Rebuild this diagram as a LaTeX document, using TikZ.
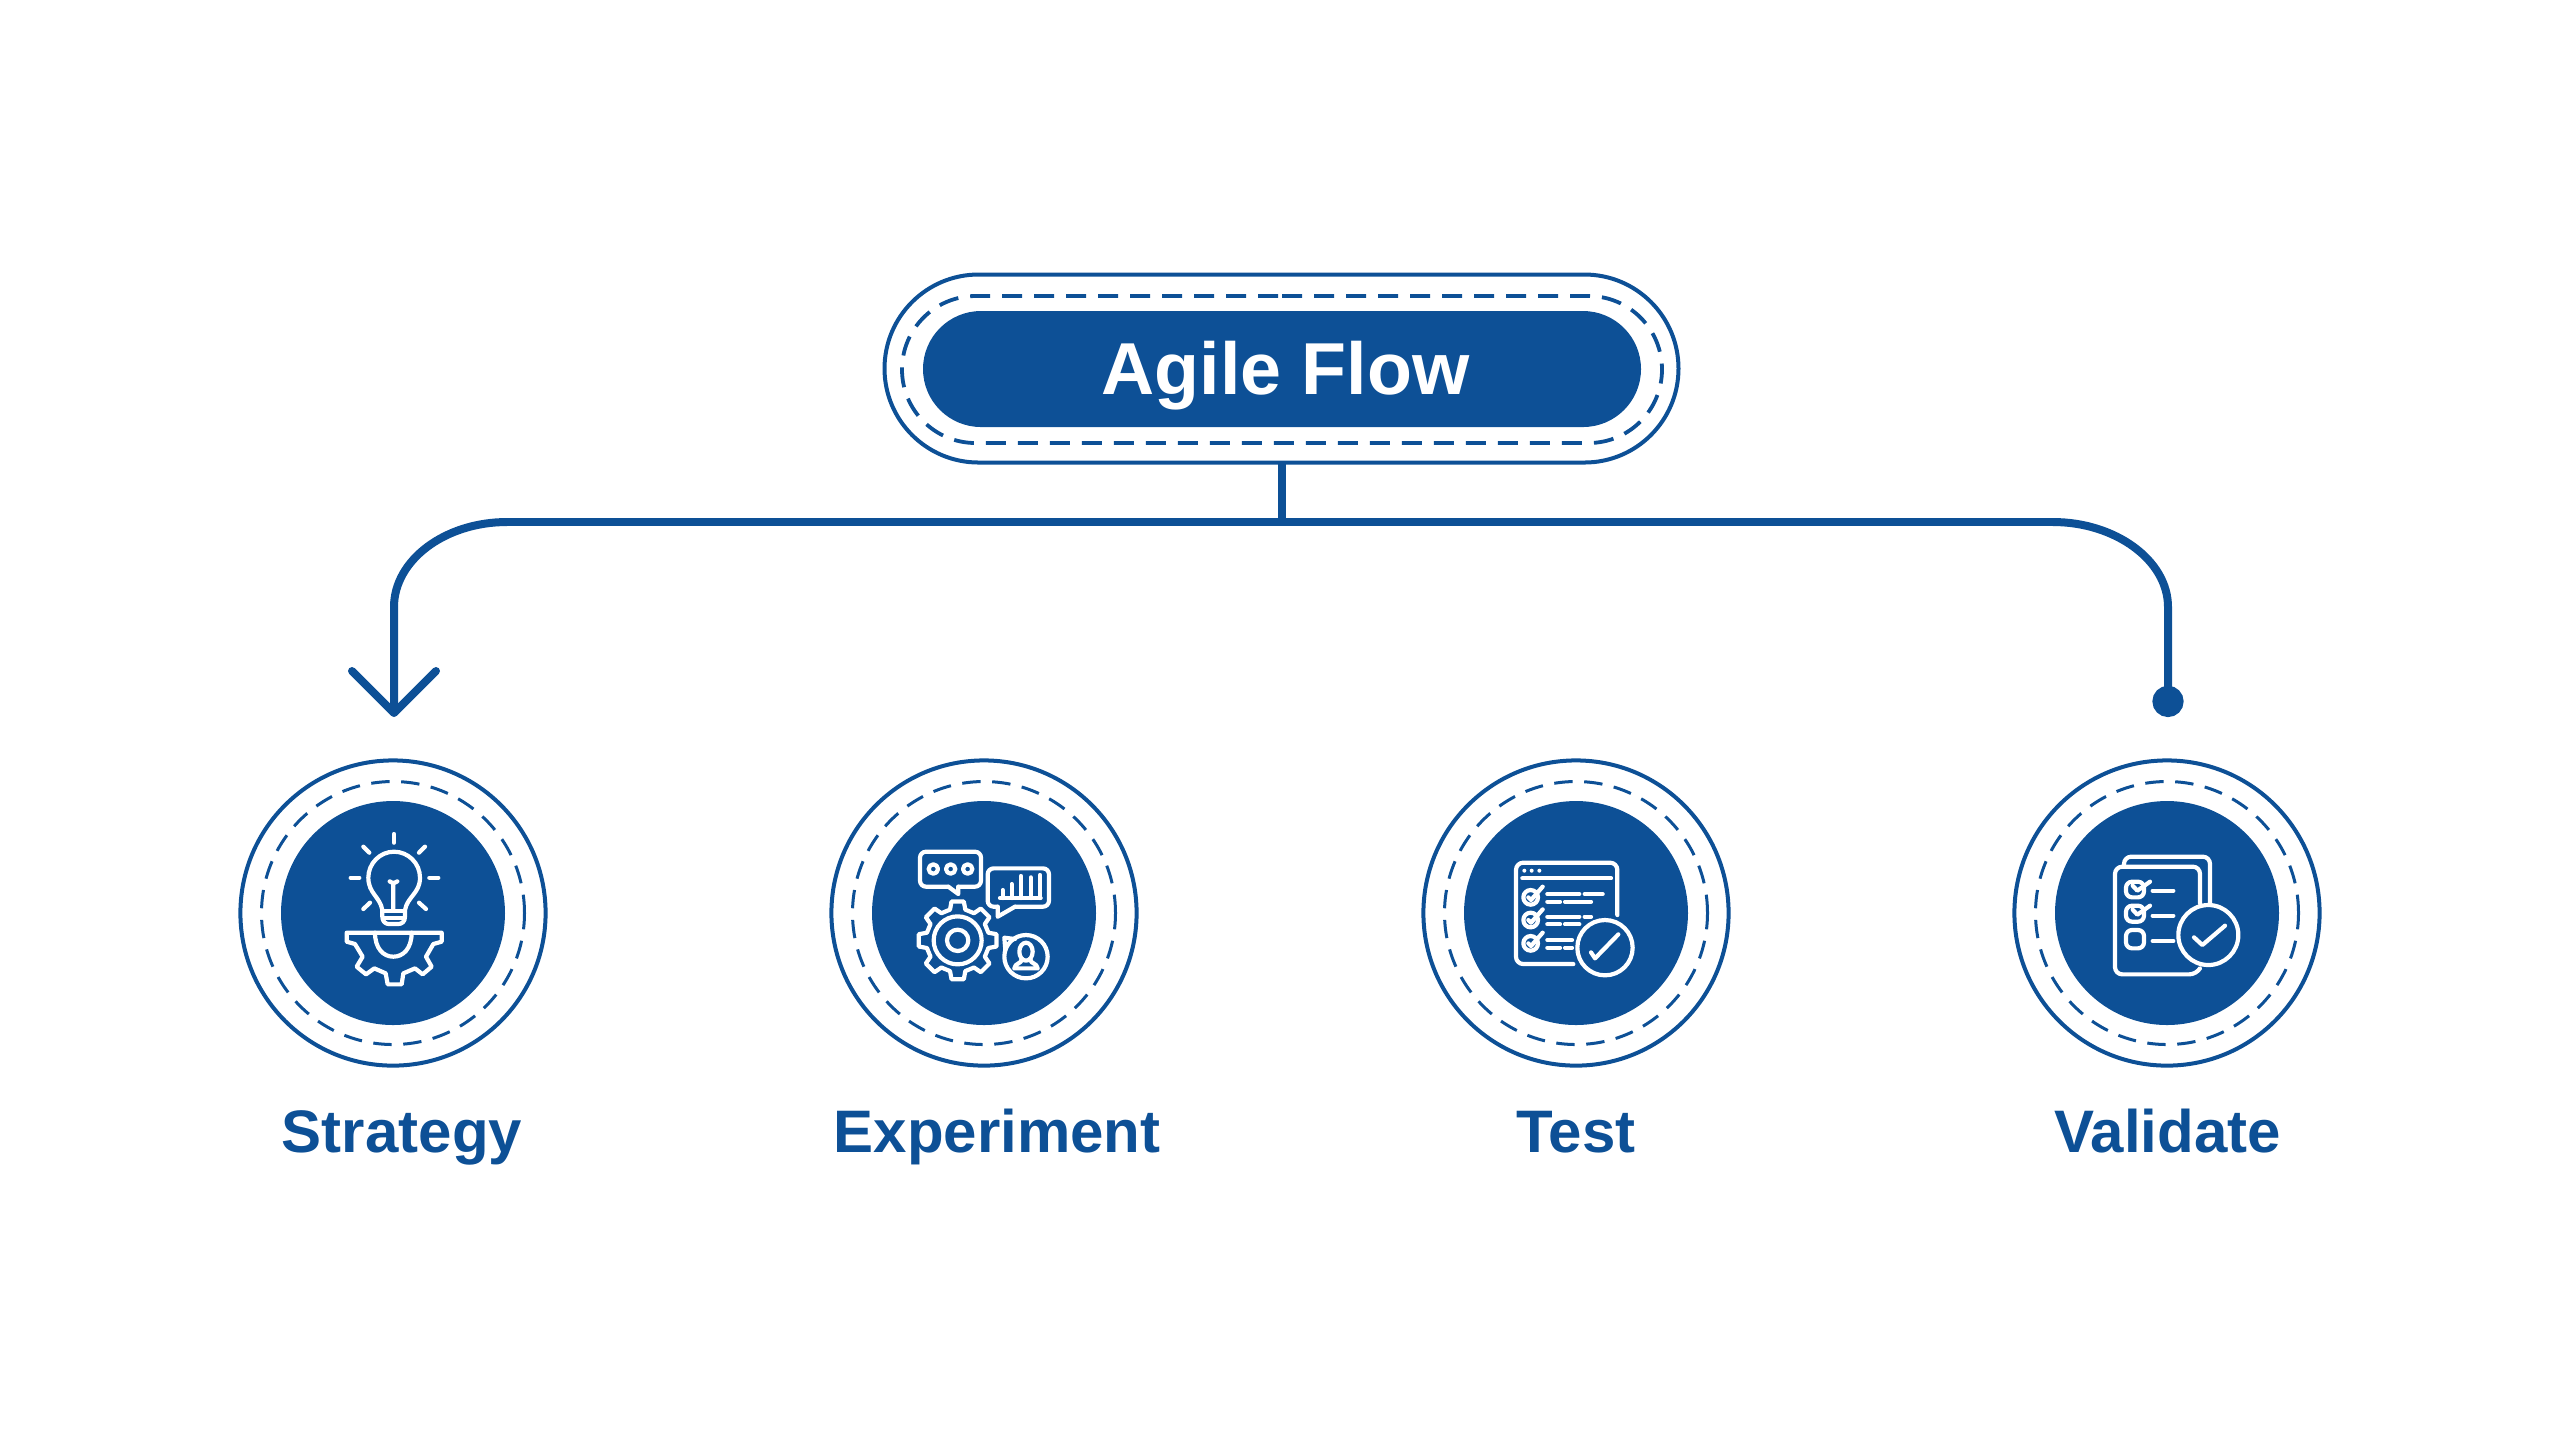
\documentclass[tikz,border=0pt]{standalone}
\usepackage{fontspec}
\setmainfont{Liberation Sans}
\usetikzlibrary{arrows.meta,shapes.misc}
\definecolor{agileblue}{RGB}{13,80,150}
\tikzstyle{pillf}=[rounded rectangle,fill=agileblue,minimum width=179.5pt,minimum height=29pt,inner sep=0pt,outer sep=0pt]
\tikzstyle{pilld}=[rounded rectangle,draw=agileblue,line width=0.95pt,dash pattern=on 5pt off 3pt,minimum width=190pt,minimum height=36.75pt,inner sep=0pt,outer sep=0pt]
\tikzstyle{pillo}=[rounded rectangle,draw=agileblue,line width=1pt,minimum width=198.5pt,minimum height=47pt,inner sep=0pt,outer sep=0pt]
\tikzstyle{vertexf}=[circle,fill=agileblue,minimum size=56pt,inner sep=0pt,outer sep=0pt]
\tikzstyle{vertexd}=[circle,draw=agileblue,line width=0.75pt,dash pattern=on 4.6pt off 2.9pt,minimum size=65.75pt,inner sep=0pt,outer sep=0pt]
\tikzstyle{vertexo}=[circle,draw=agileblue,line width=1pt,minimum size=76.3pt,inner sep=0pt,outer sep=0pt]
\tikzstyle{steplabel}=[text=agileblue,anchor=base,inner sep=0pt,font=\fontsize{15}{18}\selectfont\bfseries]
\tikzstyle{flowline}=[draw=agileblue,line width=2pt]
\tikzstyle{iconline}=[draw=white,line width=1.05pt,line cap=round,line join=round]

\begin{document}
\begin{tikzpicture}[x=0.25pt,y=-0.25pt]
    \useasboundingbox (0,0) rectangle (2560,1440);
    \node[pillf] (root) at (1282,369) {};
    \node[pilld] (rootd) at (1282,369.5) {};
    \node[pillo] (rooto) at (1281.5,368.5) {};
    \node[text=white,anchor=base,inner sep=0pt,font=\fontsize{18.4}{22}\selectfont\bfseries] (title) at (1285.5,394) {Agile Flow};

    \node[vertexf] (n1) at (393,913) {};
    \node[vertexf] (n2) at (984,913) {};
    \node[vertexf] (n3) at (1576,913) {};
    \node[vertexf] (n4) at (2167,913) {};
    \foreach \n in {n1,n2,n3,n4} {
        \node[vertexd] (\n d) at (\n) {};
        \node[vertexo] (\n o) at (\n) {};
    }

    \node[steplabel] (l1) at (402,1152) {Strategy};
    \node[steplabel] (l2) at (997,1152) {Experiment};
    \node[steplabel] (l3) at (1576,1152) {Test};
    \node[steplabel] (l4) at (2167.5,1152) {Validate};

    % connectors
    \coordinate (busl) at (507,522);
    \coordinate (busr) at (2053,522);
    \coordinate (endl) at (394,717);
    \coordinate (endr) at (2168,717);
    \draw[flowline] (rooto.south) -- (rooto.south |- busl);
    \draw[flowline] (busl) -- (busr);
    \draw[flowline,-{Straight Barb[round,length=10.5pt,width=21pt]}] (busl) .. controls (445,522) and (394,560) .. (394,607) -- (endl);
    \draw[flowline,-{Circle[length=7.8pt,width=7.8pt]}] (busr) .. controls (2115,522) and (2168,560) .. (2168,607) -- (endr);

    % strategy icon
    \begin{scope}[shift={(220,740)},scale=1/3]
        \draw[iconline] (487,510) .. controls (480,470) and (445,460) .. (445,413) .. controls (445,370) and (480,335) .. (522,335) .. controls (565,335) and (600,370) .. (600,413) .. controls (600,460) and (562,470) .. (555,510) -- (555,530) .. controls (555,545) and (545,552) .. (535,552) -- (507,552) .. controls (497,552) and (487,545) .. (487,530) -- cycle;
        \draw[iconline] (487,513) -- (555,513) (492,533) -- (550,533);
        \draw[iconline] (520,510) -- (520,428) (509,424) -- (520,430) -- (532,424);
        \foreach \a/\b/\c/\d in {522/282/522/308,430/320/448/338,615/320/597/338,392/413/418/413,628/413/655/413,430/507/450/488,618/507/597/488}
        \draw[iconline] (\a,\b) -- (\c,\d);
        \draw[iconline] (380,578) -- (380,605) -- (405,612) -- (428,650) -- (410,680) -- (438,703) -- (463,685) -- (497,700) -- (503,733) -- (545,733) -- (550,700) -- (585,685) -- (608,703) -- (635,680) -- (618,650) -- (640,612) -- (665,605) -- (665,578) -- cycle;
        \draw[iconline] (465,578) .. controls (465,625) and (490,650) .. (520,650) .. controls (550,650) and (575,625) .. (575,578);
    \end{scope}

    % experiment icon
    \begin{scope}[shift={(820,740)},scale=1/3]
        \draw[iconline,rounded corners=1.5pt] (385,440) -- (300,440) -- (300,335) -- (483,335) -- (483,440) -- (415,440);
        \draw[iconline] (385,440) -- (415,462) -- (415,440);
        \foreach \a in {340,392,443}
        \draw[iconline] (\a,387) circle[radius=14];
        \draw[iconline,rounded corners=1.5pt] (533,500) -- (503,500) -- (503,385) -- (687,385) -- (687,500) -- (585,500);
        \draw[iconline] (533,500) -- (533,530) -- (585,500);
        \draw[iconline] (540,474) -- (662,474);
        \foreach \a/\b in {548/450,575/432,603/408,632/412,660/405}
        \draw[iconline] (\a,474) -- (\a,\b);
        \begin{scope}[shift={(413,601)}]
            \draw[iconline] (-14:95) \foreach \t in {0,45,...,315} { -- (\t-14:95) -- (\t-9:118) -- (\t+9:118) -- (\t+14:95) } -- cycle;
            \draw[iconline] (0,0) circle[radius=72] (0,0) circle[radius=32];
        \end{scope}
        \draw[iconline] (618,650) circle[radius=65];
        \draw[iconline] (585,597) -- (553,593) -- (556,630);
        \draw[iconline] (618,635) circle[x radius=20,y radius=27];
        \draw[iconline] (583,685) .. controls (585,668) and (605,672) .. (605,658) (653,685) .. controls (651,668) and (631,672) .. (631,658) (583,685) -- (653,685);
    \end{scope}

    % test icon
    \begin{scope}[shift={(1410,740)},scale=1/3]
        \draw[iconline,rounded corners=1.8pt] (622,525) -- (622,368) -- (318,368) -- (318,672) -- (490,672);
        \draw[iconline] (337,415) -- (603,415);
        \foreach \a in {343,365,388}
        \fill[white] (\a,392) circle[radius=6];
        \foreach \b in {472,540,610} {
            \draw[iconline] (362,\b) circle[radius=22];
            \draw[iconline] (355,\b) -- (363,\b+8) -- (398,\b-32);
        }
        \foreach \a/\b/\c/\d in {412/462/508/462,524/462/578/462,412/485/450/485,465/485/543/485,412/530/508/530,524/530/543/530,412/553/450/553,465/553/508/553,412/600/486/600,412/623/450/623,465/623/486/623}
        \draw[iconline] (\a,\b) -- (\c,\d);
        \draw[iconline] (585,623) circle[radius=83];
        \draw[iconline] (543,637) -- (555,655) -- (625,583);
    \end{scope}

    % validate icon
    \begin{scope}[shift={(2000,740)},scale=1/3]
        \draw[iconline,rounded corners=1.8pt] (372,378) -- (372,350) -- (630,350) -- (630,490);
        \draw[iconline,rounded corners=1.8pt] (600,490) -- (600,380) -- (345,380) -- (345,703) -- (590,703) -- (600,685);
        \draw[iconline,rounded corners=1.5pt] (378,425) rectangle (432,472) (378,497) rectangle (432,545) (378,570) rectangle (432,625);
        \draw[iconline] (398,437) -- (412,452) -- (450,425) (398,509) -- (412,524) -- (450,497);
        \foreach \b in {452,527,603}
        \draw[iconline] (458,\b) -- (520,\b);
        \draw[iconline] (625,585) circle[radius=90];
        \draw[iconline] (582,592) -- (607,615) -- (675,557);
    \end{scope}
\end{tikzpicture}
\end{document}
